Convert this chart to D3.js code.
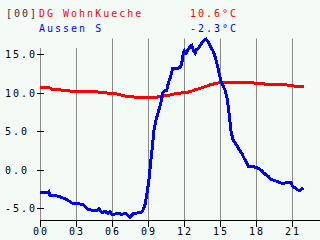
<!DOCTYPE html>
<html><head><meta charset="utf-8">
<script src="https://cdn.jsdelivr.net/npm/d3@7/dist/d3.min.js"></script>
<style>
html,body{margin:0;padding:0;background:#f4faf6;}
svg{display:block;}
text{font-family:"DejaVu Sans Mono",monospace;font-size:10px;letter-spacing:2px;}
</style></head><body>
<svg id="c" width="320" height="240"></svg>
<script>
const redHours = [0,0.83,1.0,1.67,2.5,3.0,4.17,5.0,5.83,6.5,7.08,8.33,9.5,10.08,10.75,11.25,12.08,12.5,12.92,13.33,13.75,14.17,14.58,15.0,16.5,17.5,18.08,18.75,20.0,20.83,21.33,22.0];
const redValues = [10.6,10.6,10.45,10.35,10.2,10.2,10.15,10.05,9.9,9.8,9.55,9.35,9.35,9.5,9.65,9.85,10.0,10.1,10.35,10.55,10.75,11.0,11.15,11.3,11.35,11.3,11.2,11.1,11.05,10.95,10.8,10.75];
const blueHours = [0,0.67,0.75,0.83,1.33,1.67,2.08,2.33,2.67,3.0,3.58,3.75,4.0,4.33,4.75,4.92,5.08,5.25,5.42,5.67,5.83,6.0,6.33,6.67,6.83,7.08,7.33,7.5,7.75,8.08,8.42,8.58,8.75,8.92,9.08,9.22,9.36,9.5,9.67,9.92,10.08,10.22,10.33,10.56,10.69,10.89,11.06,11.53,11.72,11.86,11.94,12.03,12.17,12.31,12.5,12.64,12.78,12.92,13.06,13.19,13.33,13.53,13.69,13.83,14.03,14.22,14.44,14.64,14.81,14.92,15.06,15.22,15.42,15.56,15.69,15.83,15.92,16.08,16.39,16.61,16.81,16.94,17.17,17.36,17.64,17.92,18.19,18.47,18.61,18.83,19.03,19.17,19.39,19.58,19.72,20.0,20.22,20.42,20.78,20.92,21.06,21.25,21.44,21.67,21.81,21.94];
const blueValues = [-3.0,-3.0,-2.85,-3.3,-3.35,-3.5,-3.75,-3.95,-4.3,-4.4,-4.45,-4.75,-5.1,-5.25,-5.25,-5.05,-5.45,-5.5,-5.35,-5.7,-5.45,-5.8,-5.7,-5.7,-5.8,-5.6,-5.9,-6.15,-5.7,-5.6,-5.55,-5.25,-4.5,-3.0,-1.3,0.9,3.0,5.2,6.5,7.8,8.8,9.9,10.2,10.3,11.2,12.1,13.15,13.15,13.35,14.2,15.1,15.4,15.1,15.5,15.95,16.1,15.5,15.1,15.6,15.7,16.1,16.5,16.8,16.9,16.5,15.95,15.3,14.4,13.35,12.5,11.6,11.0,10.3,9.5,8.2,6.2,5.0,3.9,3.2,2.6,2.15,1.7,1.05,0.43,0.43,0.35,0.2,-0.1,-0.35,-0.65,-0.85,-1.2,-1.3,-1.4,-1.5,-1.65,-1.8,-1.7,-1.65,-1.7,-2.15,-2.35,-2.6,-2.7,-2.5,-2.35];
const xTicks = [0,3,6,9,12,15,18,21];
const xTickLabels = ["00","03","06","09","12","15","18","21"];
const yTicks = [-5,0,5,10,15];
const yTickLabels = ["-5.0","0.0","5.0","10.0","15.0"];
const seriesNames = ["DG WohnKueche","Aussen S"];
const seriesCurrent = ["10.6°C","-2.3°C"];
const seriesColors = ["#ff0000","#0000ff"];

const svg = d3.select("#c");
const x = d3.scaleLinear().domain([0,23.33]).range([40,320]);
const y = d3.scaleLinear().domain([-6.5,17]).range([220,38.5]);

// grid
svg.append("g").selectAll("line").data(xTicks).join("line")
  .attr("x1",d=>Math.round(x(d))+0.5).attr("x2",d=>Math.round(x(d))+0.5)
  .attr("y1",y(17)).attr("y2",220).attr("stroke","#8a8a8a").attr("stroke-width",1);
// legend background box (covers grid top on the left)
svg.append("rect").attr("x",0).attr("y",0).attr("width",104).attr("height",48).attr("fill","#f4faf6");

// y ticks
svg.append("g").selectAll("line").data(yTicks).join("line")
  .attr("x1",37).attr("x2",44).attr("y1",d=>Math.round(y(d))+0.5).attr("y2",d=>Math.round(y(d))+0.5)
  .attr("stroke","#000");
svg.append("g").selectAll("text").data(yTicks).join("text")
  .attr("x",5).attr("y",d=>Math.round(y(d))+4).attr("fill","#000")
  .text((d,i)=>yTickLabels[i]);

// x axis
svg.append("line").attr("x1",40).attr("x2",320).attr("y1",220.5).attr("y2",220.5).attr("stroke","#000");
svg.append("g").selectAll("line").data(xTicks).join("line")
  .attr("x1",d=>Math.round(x(d))+0.5).attr("x2",d=>Math.round(x(d))+0.5).attr("y1",220).attr("y2",227).attr("stroke","#000");
svg.append("g").selectAll("text").data(xTicks).join("text")
  .attr("x",d=>x(d)+1).attr("y",235).attr("text-anchor","middle").attr("fill","#000")
  .text((d,i)=>xTickLabels[i]);

// lines
const line = d3.line().x(d=>x(d[0])).y(d=>y(d[1]));
svg.append("path").datum(redHours.map((h,i)=>[h,redValues[i]]))
  .attr("d",line).attr("fill","none").attr("stroke",seriesColors[0]).attr("stroke-width",3)
  .attr("shape-rendering","crispEdges");
svg.append("path").datum(blueHours.map((h,i)=>[h,blueValues[i]]))
  .attr("d",line).attr("fill","none").attr("stroke",seriesColors[1]).attr("stroke-width",3)
  .attr("shape-rendering","crispEdges");

// legend
svg.append("text").attr("x",6).attr("y",17).attr("fill","#333").text("[00]");
seriesNames.forEach((n,i)=>{
  svg.append("text").attr("x",39).attr("y",17+15*i).attr("fill",seriesColors[i]).text(n);
  svg.append("text").attr("x",190).attr("y",17+15*i).attr("fill",seriesColors[i]).text(seriesCurrent[i]);
});
</script></body></html>
